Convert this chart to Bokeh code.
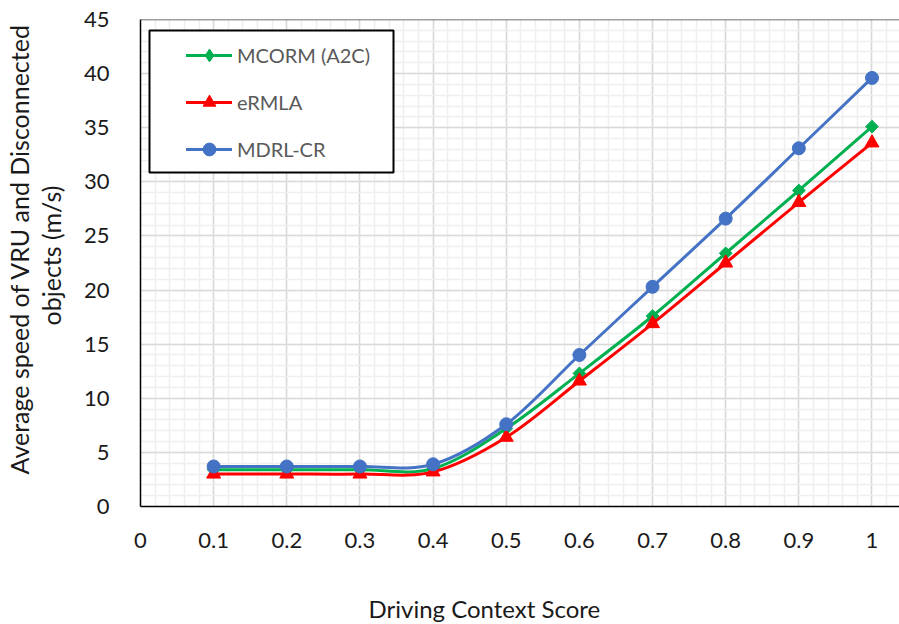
import numpy as np
from bokeh.plotting import figure
from bokeh.models import (Legend, LegendItem, BoxAnnotation, Span, Title,
                          SingleIntervalTicker, CustomJSTickFormatter)
from bokeh.embed import file_html
from bokeh.resources import INLINE

# ---- data ----
x_vals = [0.1, 0.2, 0.3, 0.4, 0.5, 0.6, 0.7, 0.8, 0.9, 1.0]
mcorm = [3.4, 3.4, 3.4, 3.5, 7.2, 12.3, 17.6, 23.4, 29.2, 35.1]
ermla = [3.0, 3.0, 3.0, 3.2, 6.4, 11.6, 16.9, 22.5, 28.1, 33.6]
mdrl = [3.7, 3.7, 3.7, 3.9, 7.6, 14.0, 20.3, 26.6, 33.1, 39.6]
series_names = ["MCORM (A2C)", "eRMLA", "MDRL-CR"]
series_colors = ["#00B050", "#FF0000", "#4472C4"]
x_label = "Driving Context Score"
y_label_lines = ["Average speed of VRU and Disconnected", "objects (m/s)"]

FONT = "Lato"
TXT = "#1a1a1a"


def smooth_segments(xs, ys, k=1.0 / 6.0):
    n = len(xs)
    d = dict(x0=[], y0=[], x1=[], y1=[], cx0=[], cy0=[], cx1=[], cy1=[])
    for i in range(n - 1):
        ip = max(i - 1, 0)
        inn = min(i + 2, n - 1)
        d["x0"].append(xs[i]); d["y0"].append(ys[i])
        d["x1"].append(xs[i + 1]); d["y1"].append(ys[i + 1])
        d["cx0"].append(xs[i] + (xs[i + 1] - xs[ip]) * k)
        d["cy0"].append(ys[i] + (ys[i + 1] - ys[ip]) * k)
        d["cx1"].append(xs[i + 1] - (xs[inn] - xs[i]) * k)
        d["cy1"].append(ys[i + 1] - (ys[inn] - ys[i]) * k)
    return d


p = figure(width=899, height=624, x_range=(0, 1.0376), y_range=(0, 45),
           output_backend="svg", toolbar_location=None,
           min_border_left=140, min_border_right=0, min_border_top=19,
           min_border_bottom=118)
p.outline_line_color = None
p.background_fill_color = "white"

# axes
p.xaxis.ticker = SingleIntervalTicker(interval=0.1, num_minor_ticks=5)
p.yaxis.ticker = SingleIntervalTicker(interval=5, num_minor_ticks=5)
p.xaxis.formatter = CustomJSTickFormatter(code="return String(Math.round(tick*10)/10);")
for ax in (p.xaxis[0], p.yaxis[0]):
    ax.major_tick_line_color = None
    ax.minor_tick_line_color = None
    ax.major_tick_out = 0
    ax.major_tick_in = 0
    ax.axis_line_color = "black"
    ax.axis_line_width = 1.5
    ax.major_label_text_font = FONT
    ax.major_label_text_font_size = "22px"
    ax.major_label_text_color = TXT
    # blank spacer label to push the axis titles outward
    ax.axis_label = " "
    ax.axis_label_text_font_size = "1px"
p.yaxis.major_label_standoff = 27
p.xaxis.major_label_standoff = 22
p.yaxis.axis_label_standoff = 11
p.xaxis.axis_label_standoff = 37

# grid
for g in (p.xgrid[0], p.ygrid[0]):
    g.grid_line_color = "#d9d9d9"
    g.grid_line_width = 1.5
    g.minor_grid_line_color = "#efefef"
    g.minor_grid_line_width = 1.5

p.add_layout(Span(location=45, dimension="width", line_color="#404040", line_width=1.5))

# series
renderers = []
markers = [dict(marker="square", angle=np.pi / 4, size=9),
           dict(marker="triangle", size=14),
           dict(marker="circle", size=13)]
for ys, col, mk in zip([mcorm, ermla, mdrl], series_colors, markers):
    seg = smooth_segments(x_vals, ys)
    b = p.bezier(line_color=col, line_width=3, line_cap="round", **seg)
    s = p.scatter(x_vals, ys, fill_color=col, line_color=col, **mk)
    renderers.append([b, s])

# legend-only diamond swatch for the first series (a missing value, never drawn in the plot)
diamond_key = p.scatter(x=[np.nan], y=[np.nan], marker="diamond", size=14,
                        fill_color=series_colors[0], line_color=series_colors[0])
renderers[0] = [renderers[0][0], diamond_key]

# legend box
box = BoxAnnotation(left=9, right=253, top=476, bottom=334,
                    left_units="screen", right_units="screen",
                    top_units="screen", bottom_units="screen",
                    fill_color="white", fill_alpha=1.0,
                    line_color="black", line_width=2, line_alpha=1.0)
p.add_layout(box)

legend = Legend(items=[LegendItem(label=n, renderers=r) for n, r in zip(series_names, renderers)],
                location=(46, 341), padding=0, spacing=15,
                glyph_width=46, glyph_height=32, label_height=20,
                label_standoff=5, border_line_color=None,
                background_fill_alpha=0.0,
                label_text_font=FONT, label_text_font_size="20px",
                label_text_color="#595959")
p.add_layout(legend)

# axis titles
ycommon = dict(text_font=FONT, text_font_size="25px", text_font_style="normal",
               text_color=TXT)
p.add_layout(Title(text=y_label_lines[1], align="left", offset=181, standoff=0, **ycommon), "left")
p.add_layout(Title(text=y_label_lines[0], align="left", offset=32, standoff=0, **ycommon), "left")
p.add_layout(Title(text=x_label, align="left", offset=228, standoff=0,
                   text_font=FONT, text_font_size="24px", text_font_style="normal",
                   text_color=TXT), "below")

open("out.html", "w").write(file_html(p, INLINE))
